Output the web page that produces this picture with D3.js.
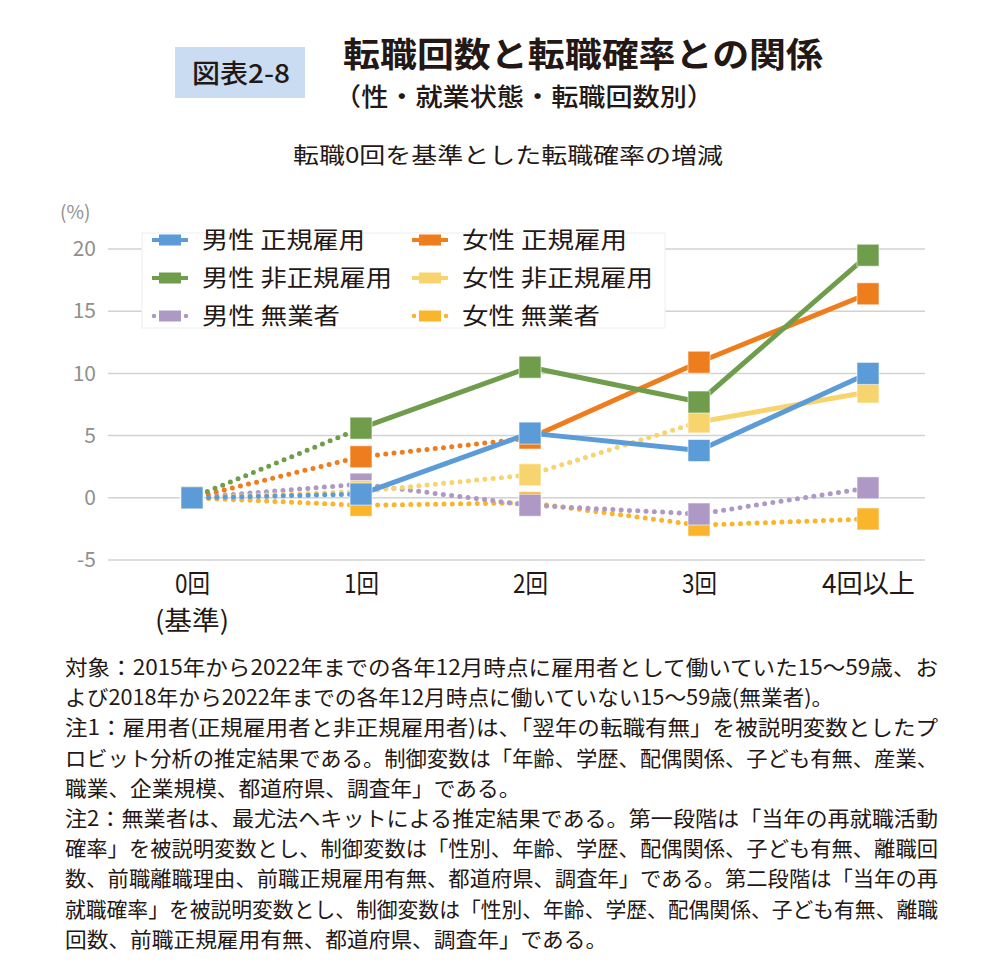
<!DOCTYPE html>
<html>
<head>
<meta charset="utf-8">
<script src="https://cdn.jsdelivr.net/npm/d3@7"></script>
<style>
  body { margin: 0; background: #fff; }
  text { font-family: "Noto Sans CJK JP", "Noto Sans", sans-serif; }
</style>
</head>
<body>
<div id="chart"></div>
<script>
// categories and values (%)
var categories = ["0回", "1回", "2回", "3回", "4回以上"];
var maleRegular    = [0, 0.3, 5.2, 3.8, 10.0];
var maleNonRegular = [0, 5.6, 10.5, 7.7, 19.5];
var maleJobless    = [0, 1.1, -0.6, -1.3, 0.8];
var femRegular     = [0, 3.3, 4.8, 10.9, 16.4];
var femNonRegular  = [0, 0.5, 1.85, 6.1, 8.5];
var femJobless     = [0, -0.6, -0.4, -2.2, -1.7];
// 1 = solid segment, 0 = dotted segment (segment i joins point i and i+1)
var maleRegularSolid    = [0, 1, 1, 1];
var maleNonRegularSolid = [0, 1, 1, 1];
var maleJoblessSolid    = [0, 0, 0, 0];
var femRegularSolid     = [0, 0, 1, 1];
var femNonRegularSolid  = [0, 0, 0, 1];
var femJoblessSolid     = [0, 0, 0, 0];
var yTicks = [-5, 0, 5, 10, 15, 20];

var notes = [
  "対象：2015年から2022年までの各年12月時点に雇用者として働いていた15～59歳、お",
  "よび2018年から2022年までの各年12月時点に働いていない15～59歳(無業者)。",
  "注1：雇用者(正規雇用者と非正規雇用者)は、「翌年の転職有無」を被説明変数としたプ",
  "ロビット分析の推定結果である。制御変数は「年齢、学歴、配偶関係、子ども有無、産業、",
  "職業、企業規模、都道府県、調査年」である。",
  "注2：無業者は、最尤法ヘキットによる推定結果である。第一段階は「当年の再就職活動",
  "確率」を被説明変数とし、制御変数は「性別、年齢、学歴、配偶関係、子ども有無、離職回",
  "数、前職離職理由、前職正規雇用有無、都道府県、調査年」である。第二段階は「当年の再",
  "就職確率」を被説明変数とし、制御変数は「性別、年齢、学歴、配偶関係、子ども有無、離職",
  "回数、前職正規雇用有無、都道府県、調査年」である。"
];
var noteFull = [1, 0, 1, 1, 0, 1, 1, 1, 1, 0];

var series = [
  {name: "女性 無業者",     values: femJobless,     solid: femJoblessSolid,     color: "#F9B52B", legendDotted: true},
  {name: "男性 無業者",     values: maleJobless,    solid: maleJoblessSolid,    color: "#AE99C6", legendDotted: true},
  {name: "女性 非正規雇用", values: femNonRegular,  solid: femNonRegularSolid,  color: "#F8D46E", legendDotted: false},
  {name: "女性 正規雇用",   values: femRegular,     solid: femRegularSolid,     color: "#EE7D1E", legendDotted: false},
  {name: "男性 非正規雇用", values: maleNonRegular, solid: maleNonRegularSolid, color: "#6F9D4C", legendDotted: false},
  {name: "男性 正規雇用",   values: maleRegular,    solid: maleRegularSolid,    color: "#5B9BD8", legendDotted: false}
];

var W = 1000, H = 972;
var ink = "#231815";

var svg = d3.select("#chart").append("svg")
    .attr("width", W)
    .attr("height", H);

function fit(sel, len) {
    sel.attr("textLength", len).attr("lengthAdjust", "spacingAndGlyphs");
}

// header
svg.append("rect").attr("x", 175).attr("y", 47).attr("width", 130).attr("height", 51)
    .attr("fill", "#C9DCF1");
svg.append("text").attr("x", 241).attr("y", 83).attr("text-anchor", "middle")
    .attr("font-size", 26).attr("fill", ink).attr("font-weight", 500)
    .text("図表2-8").call(fit, 98);
svg.append("text").attr("x", 343).attr("y", 66.5)
    .attr("font-size", 34).attr("font-weight", 700).attr("fill", ink)
    .text("転職回数と転職確率との関係").call(fit, 480);
svg.append("text").attr("x", 334).attr("y", 106)
    .attr("font-size", 25).attr("font-weight", 500).attr("fill", ink)
    .text("（性・就業状態・転職回数別）").call(fit, 380);
svg.append("text").attr("x", 293).attr("y", 163)
    .attr("font-size", 22).attr("fill", ink)
    .text("転職0回を基準とした転職確率の増減").call(fit, 430);

// scales
var x = d3.scalePoint().domain(categories).range([192, 868]);
var y = d3.scaleLinear().domain([-5, 20]).range([560, 249]);

// grid
var grid = svg.append("g");
grid.selectAll("line").data(yTicks).join("line")
    .attr("x1", 108).attr("x2", 925)
    .attr("y1", function(d) { return y(d); })
    .attr("y2", function(d) { return y(d); })
    .attr("stroke", "#d2d2d2").attr("stroke-width", 1.5);

// y axis labels
var yAxis = svg.append("g").attr("transform", "translate(100,0)")
    .call(d3.axisLeft(y).tickValues(yTicks).tickSize(0).tickPadding(4)
        .tickFormat(function(d) { return String(d); }));
yAxis.select(".domain").remove();
yAxis.selectAll("text")
    .attr("font-family", "Roboto, 'Liberation Sans', sans-serif")
    .attr("font-size", 21).attr("fill", "#8f8f8f");
svg.append("text").attr("x", 60).attr("y", 219)
    .attr("font-family", "Roboto, 'Liberation Sans', sans-serif")
    .attr("font-size", 19).attr("fill", "#8f8f8f").text("(%)");

// x axis labels
var xAxis = svg.append("g").attr("transform", "translate(0,570)")
    .call(d3.axisBottom(x).tickSize(0).tickPadding(0));
xAxis.select(".domain").remove();
xAxis.selectAll("text")
    .attr("font-size", 26).attr("fill", ink).attr("dy", "0.9em")
    .each(function(d) {
        d3.select(this).call(fit, d === "4回以上" ? 93 : 35);
    });
svg.append("text").attr("x", x("0回")).attr("y", 630).attr("text-anchor", "middle")
    .attr("font-size", 26).attr("fill", ink).text("(基準)").call(fit, 74);

// legend box
svg.append("rect").attr("x", 142).attr("y", 233).attr("width", 523).attr("height", 95)
    .attr("fill", "#fff").attr("stroke", "#eeeeee").attr("stroke-width", 1);

var legendOrder = ["男性 正規雇用", "男性 非正規雇用", "男性 無業者", "女性 正規雇用", "女性 非正規雇用", "女性 無業者"];
var legendWidths = {"男性 正規雇用": 163, "男性 非正規雇用": 190, "男性 無業者": 138,
                    "女性 正規雇用": 165, "女性 非正規雇用": 191, "女性 無業者": 138};
var leg = svg.append("g").selectAll("g")
    .data(legendOrder.map(function(n) { return series.find(function(s) { return s.name === n; }); }))
    .join("g")
    .attr("transform", function(d, i) {
        return "translate(" + (i < 3 ? 170 : 430) + "," + (240 + (i % 3) * 38) + ")";
    });
leg.each(function(d) {
    var g = d3.select(this);
    if (d.legendDotted) {
        g.append("line").attr("x1", -16).attr("x2", 18).attr("y1", 0).attr("y2", 0)
            .attr("stroke", d.color).attr("stroke-width", 4.5)
            .attr("stroke-linecap", "round").attr("stroke-dasharray", "0 8");
    } else {
        g.append("line").attr("x1", -18).attr("x2", 18).attr("y1", 0).attr("y2", 0)
            .attr("stroke", d.color).attr("stroke-width", 4);
    }
    g.append("rect").attr("x", -11).attr("y", -5.5).attr("width", 22).attr("height", 11)
        .attr("fill", d.color);
    g.append("text").attr("x", 32).attr("y", 8)
        .attr("font-size", 23).attr("fill", ink).text(d.name)
        .call(fit, legendWidths[d.name]);
});

// series
var plot = svg.append("g");
series.forEach(function(s) {
    var g = plot.append("g");
    var segs = d3.range(s.values.length - 1).map(function(i) {
        return {a: i, b: i + 1, solid: s.solid[i]};
    });
    g.selectAll("line").data(segs).join("line")
        .attr("x1", function(d) { return x(categories[d.a]); })
        .attr("y1", function(d) { return y(s.values[d.a]); })
        .attr("x2", function(d) { return x(categories[d.b]); })
        .attr("y2", function(d) { return y(s.values[d.b]); })
        .attr("stroke", s.color)
        .attr("stroke-width", 5)
        .attr("stroke-linecap", function(d) { return d.solid ? "butt" : "round"; })
        .attr("stroke-dasharray", function(d) { return d.solid ? null : "0 8.3"; });
    g.selectAll("rect").data(s.values).join("rect")
        .attr("x", function(d, i) { return x(categories[i]) - 11; })
        .attr("y", function(d) { return y(d) - 11; })
        .attr("width", 22).attr("height", 22)
        .attr("fill", s.color)
        .attr("stroke", "#fff").attr("stroke-opacity", 0.6).attr("stroke-width", 1);
});

// notes
var notesG = svg.append("g");
var noteText = notesG.selectAll("text").data(notes).join("text")
    .attr("x", 65)
    .attr("y", function(d, i) { return 675 + i * 30.2; })
    .attr("font-size", 21).attr("fill", ink)
    .text(function(d) { return d; });
var ratios = [];
noteText.each(function(d, i) {
    if (noteFull[i]) ratios.push(873 / this.getComputedTextLength());
});
var avg = d3.mean(ratios);
noteText.each(function(d, i) {
    var len = noteFull[i] ? 873 : this.getComputedTextLength() * avg;
    d3.select(this).call(fit, len);
});
</script>
</body>
</html>
